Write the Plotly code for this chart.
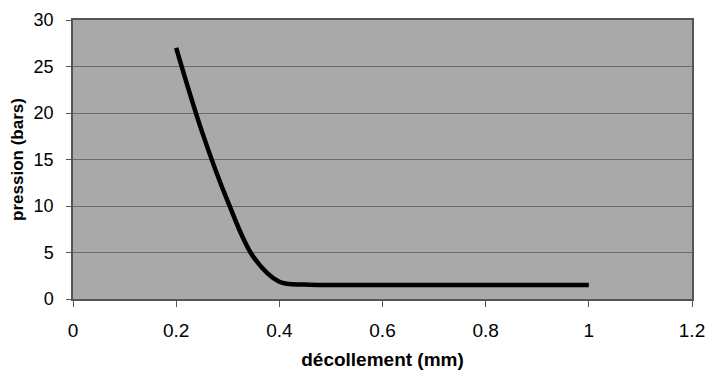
import plotly.graph_objects as go

decollement = [0.2, 0.25, 0.3, 0.35, 0.4, 0.45, 0.5, 0.6, 0.7, 0.8, 0.9, 1.0]
pression = [27.0, 18.0, 10.5, 4.5, 1.85, 1.55, 1.5, 1.5, 1.5, 1.5, 1.5, 1.5]

x_ticks = [0, 0.2, 0.4, 0.6, 0.8, 1, 1.2]
x_tick_labels = ["0", "0.2", "0.4", "0.6", "0.8", "1", "1.2"]
y_ticks = [0, 5, 10, 15, 20, 25, 30]

fig = go.Figure()
fig.add_trace(go.Scatter(
    x=decollement, y=pression, mode="lines",
    line=dict(color="black", width=4.5, shape="spline", smoothing=1.0),
    showlegend=False, hoverinfo="skip",
))

font = "Arial, Liberation Sans, sans-serif"
fig.update_layout(
    width=709, height=375,
    margin=dict(l=65, r=25, t=12, b=84),
    paper_bgcolor="white", plot_bgcolor="#a9a9a9",
    font=dict(family=font, color="black", size=17),
    xaxis=dict(
        range=[0, 1.2], tickvals=x_ticks, ticktext=x_tick_labels,
        showgrid=False, zeroline=False, showline=True, linecolor="#555555",
        linewidth=1.5, mirror=True, ticks="outside", ticklen=6, tickcolor="#555555",
        tickfont=dict(size=19), ticklabelstandoff=7, automargin=False,
        title=dict(text="<b>décollement (mm)</b>", font=dict(size=19), standoff=13),
    ),
    yaxis=dict(
        range=[0, 30], tickvals=y_ticks,
        showgrid=True, gridcolor="#6a6a6a", gridwidth=1, zeroline=False,
        showline=True, linecolor="#555555", linewidth=1.5, mirror=True,
        ticks="outside", ticklen=5, tickcolor="#555555",
        tickfont=dict(size=18), ticklabelstandoff=9, automargin=False,
        title=dict(text="<b>pression (bars)</b>", font=dict(size=17), standoff=8),
    ),
)

fig.write_html("out.html")
